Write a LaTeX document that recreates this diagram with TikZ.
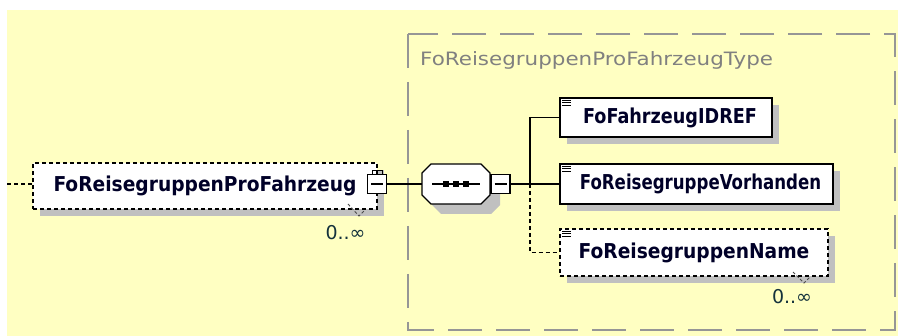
\documentclass[tikz,border=0pt]{standalone}
\usepackage{fontspec}
\usepackage{graphicx}
\setmainfont{DejaVu Sans}
\usetikzlibrary{shadows}
\definecolor{bgyellow}{RGB}{255,255,194}
\definecolor{shadowgray}{RGB}{192,192,192}
\definecolor{typegray}{RGB}{150,150,150}
\definecolor{titlegray}{RGB}{128,128,128}
\definecolor{nametext}{RGB}{0,0,40}
\definecolor{multtext}{RGB}{20,50,60}
\newcommand{\elname}[2][0.91]{\scalebox{#1}[1]{#2}}
\tikzset{
  x=1pt, y=-1pt,
  boxshadow/.style={general shadow={fill=shadowgray, shadow xshift=7pt, shadow yshift=-7pt}},
  elem/.style={draw=black, line width=1.3pt, fill=white, text=nametext,
    font=\fontsize{20.5}{22}\selectfont\bfseries, inner sep=0pt, boxshadow},
  optelem/.style={elem, dash pattern=on 4pt off 3pt},
  conn/.style={line width=1.3pt},
  optconn/.style={conn, dash pattern=on 4pt off 3pt},
  minusbox/.style={draw=black, line width=1.3pt, fill=white, minimum size=19pt, inner sep=0pt},
  mult/.style={font=\fontsize{19}{20}\selectfont, text=multtext, inner sep=0pt},
  octo/.style={draw=black, line width=1.3pt, fill=white},
  ticks/.style={line width=0.9pt, black!70},
  iconline/.style={line width=0.9pt, black},
}
\begin{document}
\begin{tikzpicture}
\useasboundingbox (0,0) rectangle (898,336);
\fill[white] (0,0) rectangle (898,336);
\fill[bgyellow] (7,10) rectangle (898,336);

% type container
\draw[typegray, line width=2pt, dash pattern=on 34pt off 14pt] (408,34) rectangle (895,330);
\node[anchor=base west, text=titlegray, font=\fontsize{18.4}{20}\selectfont, inner sep=0pt] (title) at (420,66)
  {\scalebox{1.165}[1]{FoReisegruppenProFahrzeugType}};

% root element
\node[optelem, minimum width=344pt, minimum height=46pt] (root) at (205,186) {\elname{FoReisegruppenProFahrzeug}};
\node[minusbox] (rootminus) at (377,184) {};
\draw[conn] ([xshift=-6pt]rootminus.center) -- ([xshift=6pt]rootminus.center);
\draw[line width=1pt] ([xshift=-5pt]rootminus.north) -- ++(0,3pt) -- ++(10pt,0) -- ++(0,-3pt);
\draw[ticks, dash pattern=on 3pt off 2pt] (348,204) -- (359,216) -- (365,210);
\node[mult] (rootmult) at (345.5,233) {0..∞};
\coordinate (in) at (7,184);
\draw[optconn] (in) -- (in -| root.west);

% sequence compositor
\node[minimum width=68pt, minimum height=40pt, inner sep=0pt] (seq) at (456,184) {};
\fill[shadowgray] (441,174)--(491,174)--(500,183)--(500,205)--(491,214)--(441,214)--(432,205)--(432,183)--cycle;
\draw[octo] (431,164)--(481,164)--(490,173)--(490,195)--(481,204)--(431,204)--(422,195)--(422,173)--cycle;
\draw[line width=1.3pt] ([xshift=-24pt]seq.center) -- ([xshift=24pt]seq.center);
\foreach \dx in {-10,0,10}
  \fill ([xshift=\dx pt]seq.center) +(-2.7pt,-2.7pt) rectangle +(2.7pt,2.7pt);
\node[minusbox] (seqminus) at (500.5,184) {};
\draw[conn] ([xshift=-6pt]seqminus.center) -- ([xshift=6pt]seqminus.center);
\draw[conn] (rootminus.east) -- (seq.west);

% children
\node[elem, minimum width=212pt, minimum height=39pt] (c1) at (666,117.5) {\hspace*{8pt}\elname[0.86]{FoFahrzeugIDREF}};
\node[elem, minimum width=273pt, minimum height=40pt] (c2) at (696.5,184) {\hspace*{8pt}\elname[0.81]{FoReisegruppeVorhanden}};
\node[optelem, minimum width=268pt, minimum height=47pt] (c3) at (694,252.5) {\elname{FoReisegruppenName}};
\foreach \c in {c1,c2,c3}{
  \foreach \dy in {3,5.5,8}
    \draw[iconline] ([xshift=3pt,yshift=-\dy pt]\c.north west) -- ++(9pt,0);
}
\draw[ticks, dash pattern=on 3pt off 2pt] (793,272) -- (804,283) -- (810,277);
\node[mult] (c3mult) at (792,297) {0..∞};

\coordinate (junction) at (530,184);
\draw[conn] (seqminus.east) -- (junction);
\draw[conn] (c1.west) -| (junction) -- (c2.west);
\draw[optconn] (junction) |- (c3.west);
\end{tikzpicture}
\end{document}
